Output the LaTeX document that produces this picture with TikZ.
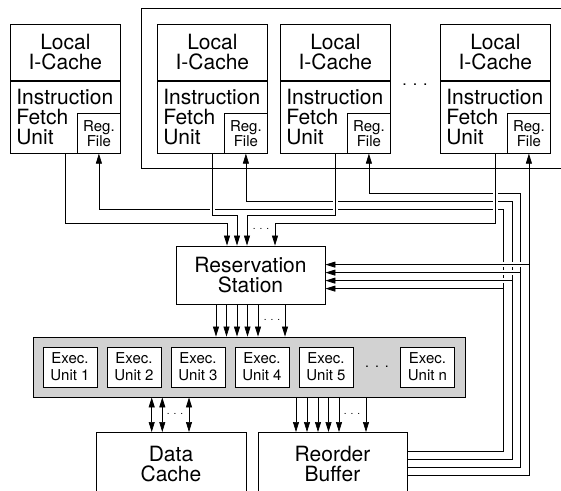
\documentclass[tikz,border=0pt]{standalone}
\usepackage{fontspec}
\setmainfont{TeX Gyre Heros}
\usetikzlibrary{arrows.meta,positioning,calc}
\definecolor{unitGray}{HTML}{D2D2D2}

\begin{document}
\begin{tikzpicture}[
  x=1pt, y=-1pt,
  font=\fontsize{21}{20}\selectfont,
  box/.style={draw, line width=0.8pt, inner sep=0pt, align=center},
  cache/.style={box, minimum width=110pt, minimum height=56pt, anchor=north west},
  fetch/.style={box, minimum width=110pt, minimum height=72pt, anchor=north, align=left, text width=98pt},
  regfile/.style={box, minimum width=43pt, minimum height=40pt, anchor=south east, font=\fontsize{15}{15}\selectfont},
  bigbox/.style={box, minimum width=149pt, minimum height=58pt},
  lowbox/.style={box, minimum width=150pt, minimum height=64pt, anchor=north},
  exunit/.style={box, fill=white, minimum width=54pt, minimum height=40pt, font=\fontsize{15}{17}\selectfont},
  ellip/.style={inner sep=0pt, font=\fontsize{10}{10}\selectfont},
  frame/.style={line width=0.8pt},
  wire/.style={line width=0.7pt},
  arrow/.style={wire, -{Triangle[length=10pt, width=6pt]}},
  dblarrow/.style={wire, {Triangle[length=10pt, width=6pt]}-{Triangle[length=10pt, width=6pt]}},
  halo/.style={preaction={draw=white, line width=5pt, -, shorten <=3pt, shorten >=10pt}},
]
\useasboundingbox (0,0) rectangle (561,490);

\foreach \i/\x in {1/10, 2/157, 3/280, 4/440} {
  \node[cache] (icache\i) at (\x,24) {Local\\I-Cache};
  \node[fetch] (ifu\i) at (icache\i.south) {Instruction\\Fetch\\Unit};
  \node[regfile] (reg\i) at (ifu\i.south east) {Reg.\\File};
}
\node[ellip, font=\fontsize{16}{16}\selectfont] (cpudots) at (415,85) {.\hspace{6pt}.\hspace{6pt}.};

\node[bigbox] (rs) at (250.5,275) {Reservation\\Station};
\node[box, fill=unitGray, minimum width=432pt, minimum height=60pt] (exec) at (249,367) {};
\foreach \i/\x in {1/70, 2/134, 3/198, 4/262, 5/326}
  \node[exunit] (unit\i) at (\x,367) {Exec.\\Unit \i};
\node[exunit] (unitn) at (427.5,367) {Exec.\\Unit n};
\node[ellip, font=\fontsize{14}{14}\selectfont] (unitdots) at (377,367) {.\hspace{6pt}.\hspace{6pt}.};
\node[lowbox] (dcache) at (171,432) {Data\\Cache};
\node[lowbox, minimum width=149pt] (rob) at (332.5,432) {Reorder\\Buffer};

\coordinate (rin1) at ($(rs.north)+(-23.5,0)$);
\coordinate (rin2) at ($(rs.north)+(-13.5,0)$);
\coordinate (rin3) at ($(rs.north)+(-3.5,0)$);
\coordinate (rin4) at ($(rs.north)+(24.5,0)$);
\coordinate (bus2) at ($(reg4.south)+(-8.5,40)$);
\coordinate (bus3) at ($(reg4.south)+(-17,48)$);
\coordinate (bus4) at ($(reg4.south)+(-25.5,56)$);
\foreach \i/\dy in {1/19, 2/27, 3/35, 4/43}
  \coordinate (rsin\i) at ($(rs.north east)+(0,\dy)$);

\draw[arrow] ($(rob.north east)+(0,43)$) -| (reg4.south);
\draw[arrow] ($(rob.north east)+(0,35)$) -| (bus2) -| (reg3.south);
\draw[arrow] ($(rob.north east)+(0,27)$) -| (bus3) -| (reg2.south);
\draw[arrow] ($(rob.north east)+(0,19)$) -| (bus4) -| (reg1.south);
\draw[arrow, halo] (reg4.south |- rsin1) -- (rsin1);
\draw[arrow, halo] (bus2 |- rsin2) -- (rsin2);
\draw[arrow, halo] (bus3 |- rsin3) -- (rsin3);
\draw[arrow, halo] (bus4 |- rsin4) -- (rsin4);

\draw[arrow, halo] (ifu1.south) |- ([yshift=22pt]rin1) -- (rin1);
\draw[arrow, halo] (ifu2.south) |- ([yshift=30pt]rin2) -- (rin2);
\draw[arrow, halo] (ifu3.south) |- ([yshift=30pt]rin3) -- (rin3);
\draw[arrow, halo] (ifu4.south) |- ([yshift=22pt]rin4) -- (rin4);
\node[ellip] (rsindots) at (261,229) {.\hspace{4pt}.\hspace{4pt}.};

\foreach \dx in {-34.5,-24,-13.5,-3,7.5,34.5} {
  \coordinate (tap) at ($(rs.south)+(\dx,0)$);
  \draw[arrow] (tap) -- (tap |- exec.north);
}
\node[ellip] (rsoutdots) at (272,320) {.\hspace{4pt}.\hspace{4pt}.};

\foreach \dx in {-36.5,-25.5,-14.5,-4,6.5,33.5} {
  \coordinate (tap) at ($(rob.north)+(\dx,0)$);
  \draw[arrow] (tap |- exec.south) -- (tap);
}
\node[ellip] (robdots) at (352,414) {.\hspace{4pt}.\hspace{4pt}.};
\foreach \dx in {-19.3,-8.7,18} {
  \coordinate (tap) at ($(dcache.north)+(\dx,0)$);
  \draw[dblarrow] (tap |- exec.south) -- (tap);
}
\node[ellip] (dcdots) at (175,414) {.\hspace{4pt}.\hspace{4pt}.};

\draw[frame] (565,8) -| (141,168) -- (565,168);
\end{tikzpicture}
\end{document}
